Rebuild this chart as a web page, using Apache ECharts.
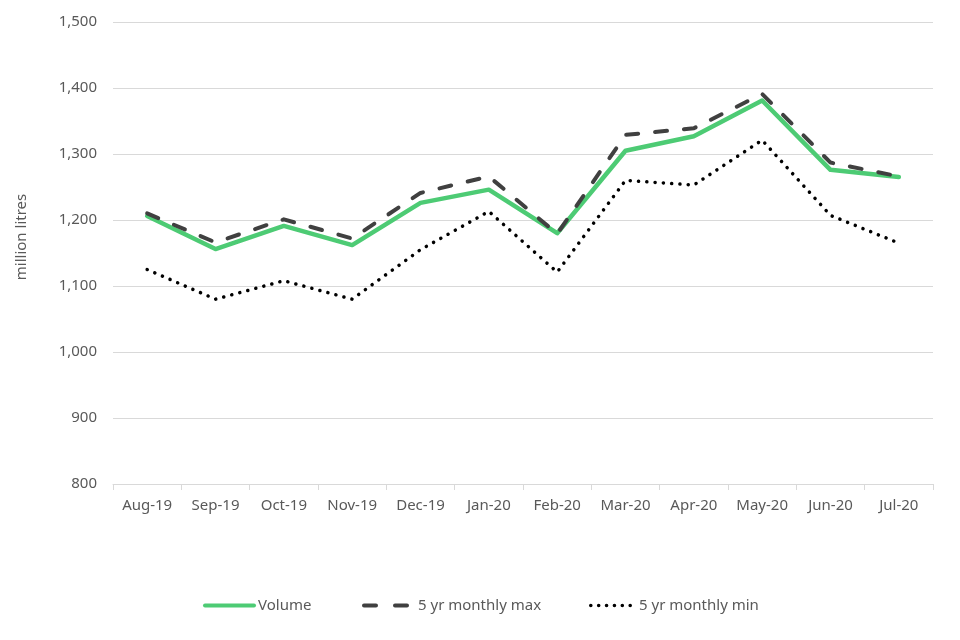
<!DOCTYPE html>
<html>
<head>
<meta charset="utf-8">
<script src="https://cdn.jsdelivr.net/npm/echarts@6/dist/echarts.min.js"></script>
<style>html,body{margin:0;padding:0;background:#fff}#c{width:960px;height:640px}</style>
</head>
<body>
<div id="c"></div>
<script>
const categories = ['Aug-19','Sep-19','Oct-19','Nov-19','Dec-19','Jan-20','Feb-20','Mar-20','Apr-20','May-20','Jun-20','Jul-20'];
const volume = [1206, 1156, 1191, 1162, 1226, 1246, 1180, 1305, 1327, 1381, 1276, 1265];
const max5yr = [1210, 1166, 1201, 1172, 1241, 1266, 1179, 1329, 1339, 1391, 1287, 1266];
const min5yr = [1125, 1080, 1108, 1080, 1155, 1213, 1121, 1260, 1253, 1321, 1207, 1165];
const yTicks = {min: 800, max: 1500, interval: 100};

// legend icon shapes
const barIcon = 'path://M2,0H51A2,2 0 0 1 51,4H2A2,2 0 0 1 2,0Z';
const dashIcon = 'path://M2,0H14A2,2 0 0 1 14,4H2A2,2 0 0 1 2,0ZM33,0H45A2,2 0 0 1 45,4H33A2,2 0 0 1 33,0Z';
function dotIcon(n, w, r) {
  let p = 'path://';
  const step = (w - 2 * r) / (n - 1);
  for (let k = 0; k < n; k++) {
    const cx = r + k * step;
    p += `M${(cx - r).toFixed(2)},${r}A${r},${r} 0 1 0 ${(cx + r).toFixed(2)},${r}A${r},${r} 0 1 0 ${(cx - r).toFixed(2)},${r}Z`;
  }
  return p;
}

const chart = echarts.init(document.getElementById('c'), null, {renderer: 'canvas'});
const font = '"Noto Sans", sans-serif';
const legendText = {color: '#595959', fontSize: 15, fontFamily: font};
function legend(name, left, w, h, icon, gap) {
  return {
    top: 593, left: left - 5, itemWidth: w, itemHeight: h,
    icon: icon,
    itemStyle: {borderWidth: 0},
    textStyle: Object.assign({}, legendText, {padding: [0, 0, 0, gap - 5]}),
    data: [name]
  };
}
chart.setOption({
  animation: false,
  backgroundColor: '#ffffff',
  grid: {left: 113, right: 27, top: 22, bottom: 156},
  xAxis: {
    type: 'category',
    data: categories,
    boundaryGap: true,
    axisLine: {lineStyle: {color: '#d9d9d9', width: 1}},
    axisTick: {show: true, alignWithLabel: false, length: 6, lineStyle: {color: '#d9d9d9'}},
    axisLabel: {color: '#595959', fontSize: 15, fontFamily: font, margin: 14}
  },
  yAxis: {
    type: 'value',
    min: yTicks.min, max: yTicks.max, interval: yTicks.interval,
    name: 'million litres',
    nameLocation: 'middle',
    nameGap: 84,
    nameRotate: 90,
    nameTextStyle: {color: '#595959', fontSize: 15, fontFamily: font, padding: [0, 0, 0, 32]},
    axisLine: {show: false},
    axisTick: {show: false},
    splitLine: {lineStyle: {color: '#d9d9d9', width: 1}},
    axisLabel: {
      color: '#595959', fontSize: 15, fontFamily: font, margin: 16,
      formatter: v => v.toLocaleString('en-US')
    }
  },
  legend: [
    legend('Volume', 203, 53, 4.5, barIcon, 2),
    legend('5 yr monthly max', 362, 47, 4.5, dashIcon, 9),
    legend('5 yr monthly min', 589, 43, 3.6, dotIcon(6, 43, 1.8), 7)
  ],
  series: [
    {
      name: 'Volume', type: 'line', data: volume, symbol: 'none',
      z: 3,
      lineStyle: {color: '#4dcb74', width: 4.5, cap: 'round', join: 'round'},
      itemStyle: {color: '#4dcb74'}
    },
    {
      name: '5 yr monthly max', type: 'line', data: max5yr, symbol: 'none',
      z: 4,
      lineStyle: {color: '#404040', width: 4, type: [12, 17], cap: 'round', join: 'round'},
      itemStyle: {color: '#404040'}
    },
    {
      name: '5 yr monthly min', type: 'line', data: min5yr, symbol: 'none',
      z: 5,
      lineStyle: {color: '#000000', width: 3.5, type: [0.1, 8.2], cap: 'round', join: 'round'},
      itemStyle: {color: '#000000'}
    }
  ]
});
</script>
</body>
</html>
